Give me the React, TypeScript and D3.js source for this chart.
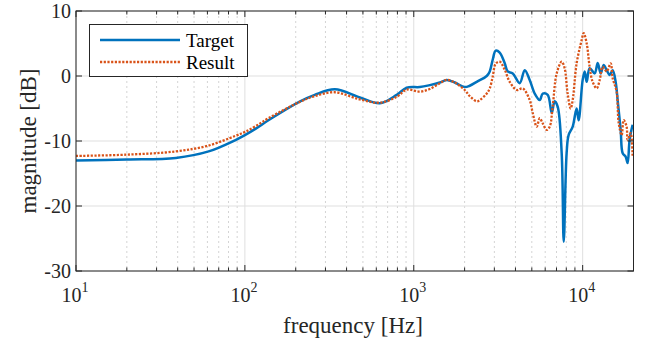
import React from "react";
import * as d3 from "d3";

// Target response: frequency [Hz] / magnitude [dB]
const targetFreq = [
  10, 20, 39, 61, 88, 100, 116, 140, 211, 259, 341, 479, 629, 793, 909, 1086,
  1245, 1427, 1568, 1749, 2003, 2144, 2359, 2704, 2818, 2933, 3056, 3227, 3452,
  3597, 3854, 4237, 4540, 4857, 5200, 5570, 5803, 6210, 6560, 6825, 7113, 7513,
  7725, 8035, 8257, 8730, 9210, 9468, 10000, 10279, 10566, 11000, 11780, 12277,
  12796, 13310, 13870, 14450, 15060, 15680, 16110, 16790, 17260, 17960, 18460,
  18970, 19760,
];
const targetDb = [
  -13.0, -12.85, -12.6, -11.6, -9.85, -9.1, -8.1, -6.7, -3.95, -2.9, -2.05,
  -3.3, -4.2, -2.9, -1.8, -1.7, -1.4, -1.0, -0.6, -1.0, -1.7, -1.5, -0.9, 0.0,
  0.7, 2.5, 3.9, 3.6, 2.0, 0.7, 0.4, -1.1, 0.9, -0.6, -2.7, -3.7, -2.7, -2.9,
  -5.7, -3.9, -4.7, -11.9, -25.5, -11.9, -9.1, -7.8, -5.0, -6.8, -0.6, 0.7,
  -0.9, 1.2, 0.4, 2.0, 0.4, 1.7, 0.9, 0.15, 0.9, -0.9, -3.7, -8.3, -11.9, -12.4,
  -13.4, -9.8, -7.5,
];

// Result response
const resultFreq = [
  10, 20, 39, 61, 88, 100, 116, 140, 211, 259, 341, 479, 629, 793, 909, 1086,
  1245, 1427, 1568, 1749, 2003, 2144, 2359, 2459, 2704, 2818, 2933, 3056, 3227,
  3452, 3698, 4067, 4416, 4857, 5063, 5347, 5570, 5803, 6124, 6380, 6645, 7017,
  7513, 7822, 8146, 8493, 8730, 9210, 9860, 10139, 10566, 11000, 11458, 12111,
  12620, 13132, 13870, 14650, 15060, 15890, 16340, 17020, 17500, 18210, 18460,
  19230, 19760,
];
const resultDb = [
  -12.3, -12.1, -11.6, -10.7, -9.2, -8.6, -7.7, -6.4, -4.0, -3.1, -2.5, -3.6,
  -4.1, -3.2, -2.1, -2.4, -2.0, -1.1, -0.6, -1.0, -2.15, -3.1, -3.9, -3.7, -2.7,
  -1.9, -0.1, 1.9, 2.2, 1.0, -0.9, -2.15, -1.9, -3.7, -5.7, -7.8, -6.5, -7.3,
  -8.3, -7.8, -4.7, 0.4, 2.2, 1.2, -2.7, -5.0, -3.7, 1.95, 5.5, 6.6, 5.0, 1.4,
  -0.9, -1.9, -0.6, 1.4, 0.7, 1.95, -0.35, -2.4, -7.2, -9.1, -6.8, -7.8, -9.8,
  -8.8, -12.4,
];

const yTicks = [-30, -20, -10, 0, 10];
const xDecades = [10, 100, 1000, 10000];
const xExponents = ["1", "2", "3", "4"];
const seriesNames = ["Target", "Result"];

const W = 647;
const H = 339;
const M = { left: 76, right: 633.5, top: 11, bottom: 271 };
const FONT = "'Liberation Serif', 'Times New Roman', serif";
const AXIS = "#262626";
const BLUE = "#0072BD";
const ORANGE = "#D95319";

export default function App() {
  const x = d3.scaleLog().domain([10, 20000]).range([M.left, M.right]);
  const y = d3.scaleLinear().domain([-30, 10]).range([M.bottom, M.top]);

  const minorTicks: number[] = [];
  for (const dec of xDecades) {
    for (let k = 2; k <= 9; k++) {
      const v = dec * k;
      if (v < 20000) minorTicks.push(v);
    }
  }

  const line = d3
    .line<[number, number]>()
    .x((d) => x(d[0]))
    .y((d) => y(d[1]))
    .curve(d3.curveCatmullRom.alpha(0.5));

  const targetPath = line(targetFreq.map((f, i) => [f, targetDb[i]]));
  const resultPath = line(resultFreq.map((f, i) => [f, resultDb[i]]));

  return (
    <svg
      width={W}
      height={H}
      style={{ position: "absolute", left: 0, top: 0, background: "#fff" }}
      fontFamily={FONT}
    >
      <defs>
        <clipPath id="plotClip">
          <rect x={M.left} y={M.top} width={M.right - M.left} height={M.bottom - M.top} />
        </clipPath>
      </defs>

      {/* minor grid */}
      {minorTicks.map((v) => (
        <line
          key={"mg" + v}
          x1={x(v)}
          x2={x(v)}
          y1={M.top}
          y2={M.bottom}
          stroke="#d4d4d4"
          strokeWidth={1}
          strokeDasharray="2 3"
        />
      ))}
      {/* major grid */}
      {xDecades.map((v) => (
        <line key={"xg" + v} x1={x(v)} x2={x(v)} y1={M.top} y2={M.bottom} stroke="#dfdfdf" strokeWidth={1} />
      ))}
      {yTicks.map((v) => (
        <line key={"yg" + v} x1={M.left} x2={M.right} y1={y(v)} y2={y(v)} stroke="#dfdfdf" strokeWidth={1} />
      ))}

      {/* data */}
      <g clipPath="url(#plotClip)">
        <path d={targetPath ?? ""} fill="none" stroke={BLUE} strokeWidth={2.5} strokeLinejoin="round" />
        <path d={resultPath ?? ""} fill="none" stroke={ORANGE} strokeWidth={2.3} strokeDasharray="2.2 1.5" />
      </g>

      {/* axes box */}
      <rect
        x={M.left}
        y={M.top}
        width={M.right - M.left}
        height={M.bottom - M.top}
        fill="none"
        stroke={AXIS}
        strokeWidth={1}
      />

      {/* x ticks: bottom and top */}
      {xDecades.map((v) => (
        <g key={"xt" + v}>
          <line x1={x(v)} x2={x(v)} y1={M.bottom} y2={M.bottom - 6} stroke={AXIS} />
          <line x1={x(v)} x2={x(v)} y1={M.top} y2={M.top + 6} stroke={AXIS} />
        </g>
      ))}
      {minorTicks.map((v) => (
        <g key={"xm" + v}>
          <line x1={x(v)} x2={x(v)} y1={M.bottom} y2={M.bottom - 3.5} stroke={AXIS} />
          <line x1={x(v)} x2={x(v)} y1={M.top} y2={M.top + 3.5} stroke={AXIS} />
        </g>
      ))}
      {/* y ticks: left and right */}
      {yTicks.map((v) => (
        <g key={"yt" + v}>
          <line x1={M.left} x2={M.left + 6} y1={y(v)} y2={y(v)} stroke={AXIS} />
          <line x1={M.right} x2={M.right - 6} y1={y(v)} y2={y(v)} stroke={AXIS} />
        </g>
      ))}

      {/* tick labels */}
      {yTicks.map((v) => (
        <text
          key={"yl" + v}
          x={M.left - 5}
          y={y(v)}
          dy="0.35em"
          textAnchor="end"
          fontSize={20}
          fill={AXIS}
        >
          {v}
        </text>
      ))}
      {xDecades.map((v, i) => (
        <text key={"xl" + v} x={x(v) - 1} y={301.5} textAnchor="middle" fontSize={20} fill={AXIS}>
          10
          <tspan dy={-10} fontSize={14}>
            {xExponents[i]}
          </tspan>
        </text>
      ))}

      {/* axis titles */}
      <text x={353} y={333} textAnchor="middle" fontSize={23} fill={AXIS}>
        frequency [Hz]
      </text>
      <text
        transform={`translate(36, ${(M.top + M.bottom) / 2}) rotate(-90)`}
        textAnchor="middle"
        fontSize={23}
        fill={AXIS}
      >
        magnitude [dB]
      </text>

      {/* legend */}
      <rect x={89.5} y={24.5} width={158} height={52} fill="#fff" stroke={AXIS} strokeWidth={1} />
      <line x1={100} x2={180} y1={40} y2={40} stroke={BLUE} strokeWidth={2.5} />
      <line x1={100} x2={180} y1={62} y2={62} stroke={ORANGE} strokeWidth={2.3} strokeDasharray="2.2 1.5" />
      <text x={186} y={40} dy="0.35em" fontSize={19} fill="#000">
        {seriesNames[0]}
      </text>
      <text x={186} y={62} dy="0.35em" fontSize={19} fill="#000">
        {seriesNames[1]}
      </text>
    </svg>
  );
}
